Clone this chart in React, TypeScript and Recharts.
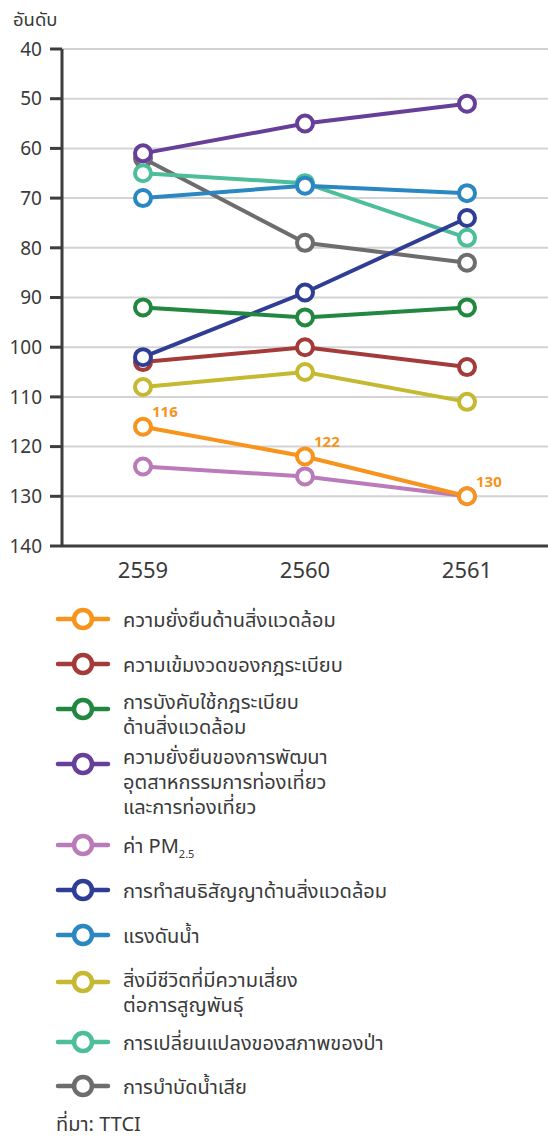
import React from "react";
import { LineChart, Line, XAxis, YAxis, CartesianGrid, LabelList } from "recharts";

// ranking per year (lower = better), y axis is reversed
const years = ["2559", "2560", "2561"];
const sustainability = [116, 122, 130];
const regulation = [103, 100, 104];
const enforcement = [92, 94, 92];
const tourismDev = [61, 55, 51];
const pm25 = [124, 126, 130];
const treaties = [102, 89, 74];
const waterStress = [70, 67.5, 69];
const threatened = [108, 105, 111];
const forestChange = [65, 67, 78];
const wastewater = [62, 79, 83];
const rankTicks = [40, 50, 60, 70, 80, 90, 100, 110, 120, 130, 140];

const FONT = "'Noto Sans', 'Noto Sans Thai', 'DejaVu Sans', sans-serif";
const TEXT = "#3a3a3a";

type Series = {
  key: string;
  name: string[];
  color: string;
  values: number[];
};

const series: Series[] = [
  { key: "sustainability", name: ["ความยั่งยืนด้านสิ่งแวดล้อม"], color: "#f7941d", values: sustainability },
  { key: "regulation", name: ["ความเข้มงวดของกฎระเบียบ"], color: "#a33b3b", values: regulation },
  { key: "enforcement", name: ["การบังคับใช้กฎระเบียบ", "ด้านสิ่งแวดล้อม"], color: "#22873f", values: enforcement },
  {
    key: "tourismDev",
    name: ["ความยั่งยืนของการพัฒนา", "อุตสาหกรรมการท่องเที่ยว", "และการท่องเที่ยว"],
    color: "#663f98",
    values: tourismDev,
  },
  { key: "pm25", name: ["ค่า PM"], color: "#bb7ab9", values: pm25 },
  { key: "treaties", name: ["การทำสนธิสัญญาด้านสิ่งแวดล้อม"], color: "#2f3d95", values: treaties },
  { key: "waterStress", name: ["แรงดันน้ำ"], color: "#2a87c1", values: waterStress },
  { key: "threatened", name: ["สิ่งมีชีวิตที่มีความเสี่ยง", "ต่อการสูญพันธุ์"], color: "#c4b930", values: threatened },
  { key: "forestChange", name: ["การเปลี่ยนแปลงของสภาพของป่า"], color: "#4cbe9a", values: forestChange },
  { key: "wastewater", name: ["การบำบัดน้ำเสีย"], color: "#6d6d6d", values: wastewater },
];

// paint order of the lines (later = on top)
const drawOrder = [
  "wastewater",
  "forestChange",
  "waterStress",
  "pm25",
  "sustainability",
  "regulation",
  "treaties",
  "threatened",
  "enforcement",
  "tourismDev",
];

// legend row layout: first text line centre and marker centre (px from page top)
const legendRows = [
  { text: 619, marker: 619 },
  { text: 664, marker: 664 },
  { text: 701, marker: 709 },
  { text: 756, marker: 764 },
  { text: 845, marker: 845 },
  { text: 890, marker: 890 },
  { text: 935, marker: 935 },
  { text: 979, marker: 982 },
  { text: 1042, marker: 1042 },
  { text: 1086, marker: 1086 },
];

const data = years.map((year, i) => {
  const row: Record<string, string | number> = { year };
  series.forEach((s) => {
    row[s.key] = s.values[i];
  });
  return row;
});

const OrangeLabel = (props: any) => {
  const { x, y, value } = props;
  return (
    <text x={x + 9} y={y - 15} dy="0.35em" fill="#f7941d" fontSize={15} fontWeight={700} fontFamily={FONT}>
      {value}
    </text>
  );
};

const Marker = ({ color }: { color: string }) => (
  <svg width={56} height={26} style={{ display: "block" }}>
    <line x1={3} y1={13} x2={53} y2={13} stroke={color} strokeWidth={4.5} strokeLinecap="round" />
    <circle cx={28} cy={13} r={9} fill="#fff" stroke={color} strokeWidth={4.5} />
  </svg>
);

export default function App() {
  const byKey = Object.fromEntries(series.map((s) => [s.key, s]));

  return (
    <div
      style={{
        position: "absolute",
        left: 0,
        top: 0,
        width: 548,
        height: 1140,
        background: "#fff",
        fontFamily: FONT,
        color: TEXT,
        overflow: "hidden",
      }}
    >
      <div style={{ position: "absolute", left: 13, top: 7, fontSize: 18.5, lineHeight: "24px" }}>อันดับ</div>

      <div style={{ position: "absolute", left: 0, top: 0 }}>
        <LineChart width={548} height={600} data={data} margin={{ top: 49, right: 0, bottom: 0, left: 0 }}>
          <CartesianGrid vertical={false} stroke="#d3d3d3" strokeWidth={2} />
          <XAxis
            dataKey="year"
            height={54}
            padding={{ left: 81, right: 81 }}
            axisLine={{ stroke: "#3d3d3d", strokeWidth: 3 }}
            tickLine={false}
            tickSize={0}
            tickMargin={16}
            tick={{ fill: TEXT, fontSize: 22, fontFamily: FONT }}
          />
          <YAxis
            reversed
            width={62}
            domain={[40, 140]}
            ticks={rankTicks}
            interval={0}
            axisLine={{ stroke: "#3d3d3d", strokeWidth: 3 }}
            tickLine={{ stroke: "#3d3d3d", strokeWidth: 3 }}
            tickSize={12}
            tickMargin={8}
            tick={{ fill: TEXT, fontSize: 19, fontFamily: FONT }}
          />
          {drawOrder.map((k) => {
            const s = byKey[k];
            return (
              <Line
                key={k}
                dataKey={k}
                stroke={s.color}
                strokeWidth={4}
                dot={{ r: 8, fill: "#fff", stroke: s.color, strokeWidth: 4 }}
                activeDot={false}
                isAnimationActive={false}
              >
                {k === "sustainability" && <LabelList dataKey={k} content={OrangeLabel} />}
              </Line>
            );
          })}
        </LineChart>
      </div>

      {series.map((s, i) => {
        const row = legendRows[i];
        return (
          <React.Fragment key={s.key}>
            <div style={{ position: "absolute", left: 55, top: row.marker - 13 }}>
              <Marker color={s.color} />
            </div>
            <div
              style={{
                position: "absolute",
                left: 123,
                top: row.text - 12.5,
                fontSize: 20,
                lineHeight: "25px",
                whiteSpace: "nowrap",
              }}
            >
              {s.name.map((line, j) => (
                <div key={j}>
                  {line}
                  {s.key === "pm25" && (
                    <sub style={{ fontSize: 11, verticalAlign: "-5px" }}>2.5</sub>
                  )}
                </div>
              ))}
            </div>
          </React.Fragment>
        );
      })}

      <div style={{ position: "absolute", left: 56, top: 1114, fontSize: 20, lineHeight: "20px" }}>ที่มา: TTCI</div>
    </div>
  );
}
